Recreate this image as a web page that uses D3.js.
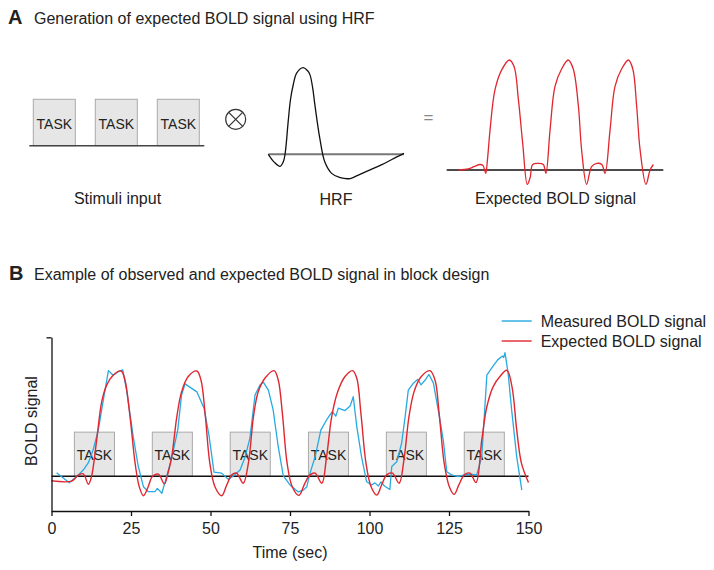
<!DOCTYPE html>
<html>
<head>
<meta charset="utf-8">
<script src="https://cdn.jsdelivr.net/npm/d3@7"></script>
<style>
  html, body { margin: 0; padding: 0; background: #fff; }
  text { font-family: "Liberation Sans", Arial, sans-serif; fill: #222; }
</style>
</head>
<body>
<div id="chart"></div>
<script>
/**
 * CONSTANTS AND GLOBALS
 * */
const width = 714,
  height = 570;

const RED = "#e0262f",
  BLUE = "#27aae1",
  BOX_FILL = "#e6e6e6",
  BOX_STROKE = "#a9a9a9";

/**
 * DATA
 * */
// panel A - stimulus blocks (arbitrary time units)
const stimOn = [4, 66, 128];
const stimOff = [46, 108, 170];

// panel A - HRF (sec, normalised amplitude)
const hrfTime = [0, 1.3, 2.6, 3.3, 3.7, 4.4, 4.9, 5.5, 6.3, 7.7, 8.6, 9.2, 9.8, 10.3, 11.4, 12.5, 14, 15.9, 18.1, 19.9, 22.5, 25.1, 27.3, 30];
const hrfValue = [0, -0.09, -0.14, -0.09, 0, 0.38, 0.63, 0.8, 0.94, 1.0, 0.97, 0.92, 0.77, 0.57, 0.18, -0.09, -0.22, -0.27, -0.28, -0.24, -0.18, -0.12, -0.06, 0.01];

// panel A - expected BOLD signal
const expATime = [5.4, 10, 12.6, 15.4, 16.8, 18, 18.8, 20, 22.3, 25.4, 28.9, 31.1, 33.1, 35.1, 37.2, 38.5, 39.7, 42.3, 44.6, 45.8, 47.7, 50, 53.1, 56.1, 58.4, 60.8, 62.3, 64.6, 66.9, 69.3, 71.6, 73.1, 75.4, 77.7, 80.8, 83.9, 85.9, 87.7, 89.3, 92, 93.9, 95.4];
const expAValue = [0, 0.01, 0.03, 0.05, 0.04, -0.03, 0.09, 0.36, 0.73, 0.91, 1.0, 0.94, 0.64, 0.24, -0.13, -0.07, 0.05, 0.06, 0.05, -0.03, 0.36, 0.76, 0.92, 1.0, 0.92, 0.58, 0.18, -0.13, 0.03, 0.06, 0.05, -0.03, 0.36, 0.76, 0.92, 1.0, 0.92, 0.58, 0.18, -0.13, 0, 0.05];

// panel B - task blocks (sec)
const taskStart = [7.2, 31.7, 56.2, 80.8, 105.3, 129.8];
const taskEnd = [19.8, 44.3, 68.8, 93.4, 117.9, 142.4];
const taskLevel = 1.27;

// panel B - expected BOLD (sec, a.u.)
const expTime = [0, 6.3, 8.4, 10, 11.6, 12.6, 14.2, 15.8, 17.4, 19.4, 21.9, 23.1, 24.7, 26.3, 27.6, 28.9, 30.4, 31.7, 33.6, 35.5, 36.6, 37.8, 39.4, 40.9, 43, 45.7, 47, 48.3, 49.8, 51.4, 53.5, 55.1, 56.7, 58.2, 60.3, 61.9, 63.5, 65, 67.1, 70, 71.3, 72.6, 74.1, 75.7, 77.8, 79.7, 81.3, 82.9, 85, 86.5, 88.1, 90, 92.3, 94.7, 96, 97.3, 98.9, 100.5, 102.3, 103.8, 105.4, 107.2, 109.3, 110.8, 112.4, 114, 116.1, 119, 120.6, 121.9, 123.5, 125.1, 126.6, 128.1, 129.8, 131.6, 133.5, 135.3, 136.9, 138.9, 141, 143.2, 144.8, 146.3, 147.8, 150];
const expValue = [-0.13, -0.14, 0.03, 0.07, -0.23, 0, 1.04, 2.15, 2.63, 2.91, 3.03, 2.77, 1.71, 0.37, -0.3, -0.56, -0.3, -0.01, 0.06, -0.22, 0.08, 0.56, 1.71, 2.43, 2.87, 3.03, 2.77, 1.81, 0.37, -0.3, -0.56, -0.25, 0.04, 0.09, -0.2, 0.37, 1.71, 2.43, 2.82, 3.04, 2.77, 1.81, 0.37, -0.3, -0.55, -0.2, 0.04, 0.09, -0.2, 0.56, 1.71, 2.43, 2.87, 3.04, 2.82, 1.81, 0.37, -0.3, -0.54, -0.25, 0.04, 0.09, -0.2, 0.45, 1.71, 2.43, 2.85, 3.04, 2.77, 1.81, 0.37, -0.3, -0.52, -0.25, 0.04, 0.09, -0.18, 1.04, 2.0, 2.58, 2.87, 3.05, 2.58, 1.33, 0.37, -0.18];

// panel B - measured BOLD (sec, a.u.)
const measTime = [1.6, 5.6, 7.9, 10, 11.6, 13.1, 14.7, 16.3, 17.9, 19.4, 21, 22.4, 23.6, 25.7, 27.3, 28.9, 30.4, 32.5, 33.3, 34.7, 36.2, 37.8, 39.7, 40.9, 42, 45.7, 48, 49.5, 51.1, 53.5, 55.6, 57.2, 59.3, 60.8, 62.4, 64, 65.6, 66.6, 68.2, 69.7, 71.3, 72.9, 75, 77.6, 79.2, 80.3, 81.3, 82.9, 84.7, 86.5, 88.3, 89.4, 90.2, 92.3, 93.9, 94.9, 96, 97.5, 99.1, 100.7, 101.7, 102.8, 103.6, 104.7, 106.4, 107, 108.6, 110.1, 111.2, 112.2, 113.8, 115.2, 116.2, 117.5, 118.7, 120.1, 121.6, 123.2, 124.3, 125.8, 127.9, 129.5, 131.6, 133.7, 135.3, 136.9, 138.4, 140.3, 141.8, 142.2, 142.6, 143.6, 144.7, 146.3, 147.9];
const measValue = [0.1, -0.19, -0.01, 0.18, 0.39, 0.76, 1.33, 2.2, 3.04, 2.91, 3.01, 3.06, 2.48, 1.14, 0.28, -0.3, -0.44, -0.44, -0.35, -0.49, -0.01, 0.53, 1.33, 2.34, 2.66, 2.43, 1.95, 1.19, 0.12, 0.09, -0.09, 0.01, 0.18, 0.53, 1.1, 2.34, 2.63, 2.71, 2.48, 1.91, 0.85, 0.01, -0.25, -0.45, -0.4, -0.3, 0.09, 0.56, 1.33, 1.62, 1.86, 1.73, 1.96, 1.89, 2.02, 2.29, 1.43, 0.56, -0.16, -0.25, -0.19, -0.28, -0.16, -0.28, -0.38, 0.28, 0.42, 0.95, 1.71, 2.48, 2.68, 2.79, 2.63, 2.77, 2.93, 2.68, 1.91, 1.04, 0.13, 0.04, -0.01, 0.03, 0.06, 0.04, 0.56, 2.91, 3.11, 3.35, 3.46, 3.42, 3.56, 2.96, 1.91, 0.56, -0.4];

const xTicks = [0, 25, 50, 75, 100, 125, 150];
const legendLabels = ["Measured BOLD signal", "Expected BOLD signal"];

/**
 * INIT
 * */
const svg = d3.select("#chart")
  .append("svg")
  .attr("width", width)
  .attr("height", height)
  .style("background", "#fff");

// ---------- PANEL A ----------
svg.append("text")
  .attr("x", 8).attr("y", 24)
  .attr("font-size", 20).attr("font-weight", "bold")
  .text("A");
svg.append("text")
  .attr("x", 34).attr("y", 24)
  .attr("font-size", 16)
  .text("Generation of expected BOLD signal using HRF");

// + stimuli input
const sx = d3.scaleLinear().domain([0, 175]).range([29.3, 204.3]);
const sy = d3.scaleLinear().domain([0, 1]).range([145.7, 99.3]);

const stim = svg.append("g");
stim.selectAll("rect")
  .data(stimOn)
  .join("rect")
  .attr("x", d => sx(d))
  .attr("y", sy(1))
  .attr("width", (d, i) => sx(stimOff[i]) - sx(d))
  .attr("height", sy(0) - sy(1))
  .attr("fill", BOX_FILL)
  .attr("stroke", BOX_STROKE);
stim.selectAll("text")
  .data(stimOn)
  .join("text")
  .attr("x", (d, i) => (sx(d) + sx(stimOff[i])) / 2)
  .attr("y", 128.5)
  .attr("text-anchor", "middle")
  .attr("font-size", 14)
  .text("TASK");
stim.append("line")
  .attr("x1", sx(0)).attr("x2", sx(175))
  .attr("y1", sy(0)).attr("y2", sy(0))
  .attr("stroke", "#444").attr("stroke-width", 1.5);
svg.append("text")
  .attr("x", 117.5).attr("y", 204)
  .attr("text-anchor", "middle").attr("font-size", 16)
  .text("Stimuli input");

// + convolution sign
const conv = svg.append("g").attr("transform", "translate(235.7,119.3)")
  .attr("fill", "none").attr("stroke", "#333").attr("stroke-width", 1.2);
conv.append("circle").attr("r", 10);
conv.append("line").attr("x1", -7).attr("y1", -7).attr("x2", 7).attr("y2", 7);
conv.append("line").attr("x1", -7).attr("y1", 7).attr("x2", 7).attr("y2", -7);

// + HRF
const hx = d3.scaleLinear().domain([0, 30]).range([268.3, 404]);
const hy = d3.scaleLinear().domain([0, 1]).range([154.3, 67.7]);
svg.append("line")
  .attr("x1", hx(0)).attr("x2", hx(30))
  .attr("y1", hy(0)).attr("y2", hy(0))
  .attr("stroke", "#777").attr("stroke-width", 2);
svg.append("path")
  .datum(d3.range(hrfTime.length))
  .attr("fill", "none")
  .attr("stroke", "#111")
  .attr("stroke-width", 1.3)
  .attr("d", d3.line().curve(d3.curveCatmullRom).x(i => hx(hrfTime[i])).y(i => hy(hrfValue[i])));
svg.append("text")
  .attr("x", 336).attr("y", 205)
  .attr("text-anchor", "middle").attr("font-size", 16)
  .text("HRF");

svg.append("text")
  .attr("x", 428.5).attr("y", 123)
  .attr("text-anchor", "middle").attr("font-size", 17)
  .style("fill", "#888")
  .text("=");

// + expected signal (panel A)
const ax = d3.scaleLinear().domain([0, 100]).range([446.7, 663.3]);
const ay = d3.scaleLinear().domain([0, 1]).range([170, 60]);
svg.append("line")
  .attr("x1", ax(0)).attr("x2", ax(100))
  .attr("y1", ay(0)).attr("y2", ay(0))
  .attr("stroke", "#111").attr("stroke-width", 1.3);
svg.append("path")
  .datum(d3.range(expATime.length))
  .attr("fill", "none")
  .attr("stroke", RED)
  .attr("stroke-width", 1.3)
  .attr("d", d3.line().curve(d3.curveCatmullRom).x(i => ax(expATime[i])).y(i => ay(expAValue[i])));
svg.append("text")
  .attr("x", 555.5).attr("y", 204)
  .attr("text-anchor", "middle").attr("font-size", 16)
  .text("Expected BOLD signal");

// ---------- PANEL B ----------
svg.append("text")
  .attr("x", 9).attr("y", 280)
  .attr("font-size", 20).attr("font-weight", "bold")
  .text("B");
svg.append("text")
  .attr("x", 34).attr("y", 280)
  .attr("font-size", 16)
  .text("Example of observed and expected BOLD signal in block design");

const x = d3.scaleLinear().domain([0, 150]).range([51.5, 528.5]);
const y = d3.scaleLinear().domain([-1, 4]).range([511, 337.3]);

// + task blocks
const tasks = svg.append("g");
tasks.selectAll("rect")
  .data(taskStart)
  .join("rect")
  .attr("x", d => x(d))
  .attr("y", y(taskLevel))
  .attr("width", (d, i) => x(taskEnd[i]) - x(d))
  .attr("height", y(0) - y(taskLevel))
  .attr("fill", BOX_FILL)
  .attr("stroke", BOX_STROKE);
tasks.selectAll("text")
  .data(taskStart)
  .join("text")
  .attr("x", (d, i) => (x(d) + x(taskEnd[i])) / 2)
  .attr("y", 460)
  .attr("text-anchor", "middle")
  .attr("font-size", 14)
  .text("TASK");

// + baseline
svg.append("line")
  .attr("x1", x(0)).attr("x2", x(150))
  .attr("y1", y(0)).attr("y2", y(0))
  .attr("stroke", "#111").attr("stroke-width", 1.3);

// + lines
svg.append("path")
  .datum(d3.range(measTime.length))
  .attr("fill", "none")
  .attr("stroke", BLUE)
  .attr("stroke-width", 1.3)
  .attr("stroke-linejoin", "round")
  .attr("d", d3.line().x(i => x(measTime[i])).y(i => y(measValue[i])));

svg.append("path")
  .datum(d3.range(expTime.length))
  .attr("fill", "none")
  .attr("stroke", RED)
  .attr("stroke-width", 1.4)
  .attr("d", d3.line().curve(d3.curveCatmullRom).x(i => x(expTime[i])).y(i => y(expValue[i])));

// + axes
const xAxis = svg.append("g")
  .attr("transform", `translate(0,${y(-1)})`)
  .call(d3.axisBottom(x).tickValues(xTicks).tickSize(5).tickSizeOuter(0).tickPadding(7));
const yAxis = svg.append("g")
  .attr("transform", `translate(${x(0)},0)`)
  .call(d3.axisLeft(y).tickValues([4]).tickFormat("").tickSize(5).tickSizeOuter(0));
[xAxis, yAxis].forEach(g => {
  g.selectAll("path, line").attr("stroke", "#111").attr("stroke-width", 1.3);
  g.selectAll("text")
    .attr("font-family", "'Liberation Sans', Arial, sans-serif")
    .attr("font-size", 16)
    .attr("fill", "#222");
});

svg.append("text")
  .attr("x", 290).attr("y", 558)
  .attr("text-anchor", "middle").attr("font-size", 16)
  .text("Time (sec)");
svg.append("text")
  .attr("transform", "translate(37,421) rotate(-90)")
  .attr("text-anchor", "middle").attr("font-size", 16)
  .text("BOLD signal");

// + legend
const legend = svg.append("g")
  .selectAll("g")
  .data(legendLabels)
  .join("g")
  .attr("transform", (d, i) => `translate(501.7,${321 + i * 20})`);
legend.append("line")
  .attr("x1", 0).attr("x2", 30)
  .attr("stroke", (d, i) => i === 0 ? BLUE : RED)
  .attr("stroke-width", 1.4);
legend.append("text")
  .attr("x", 39).attr("y", 5.5)
  .attr("font-size", 16)
  .text(d => d);
</script>
</body>
</html>
